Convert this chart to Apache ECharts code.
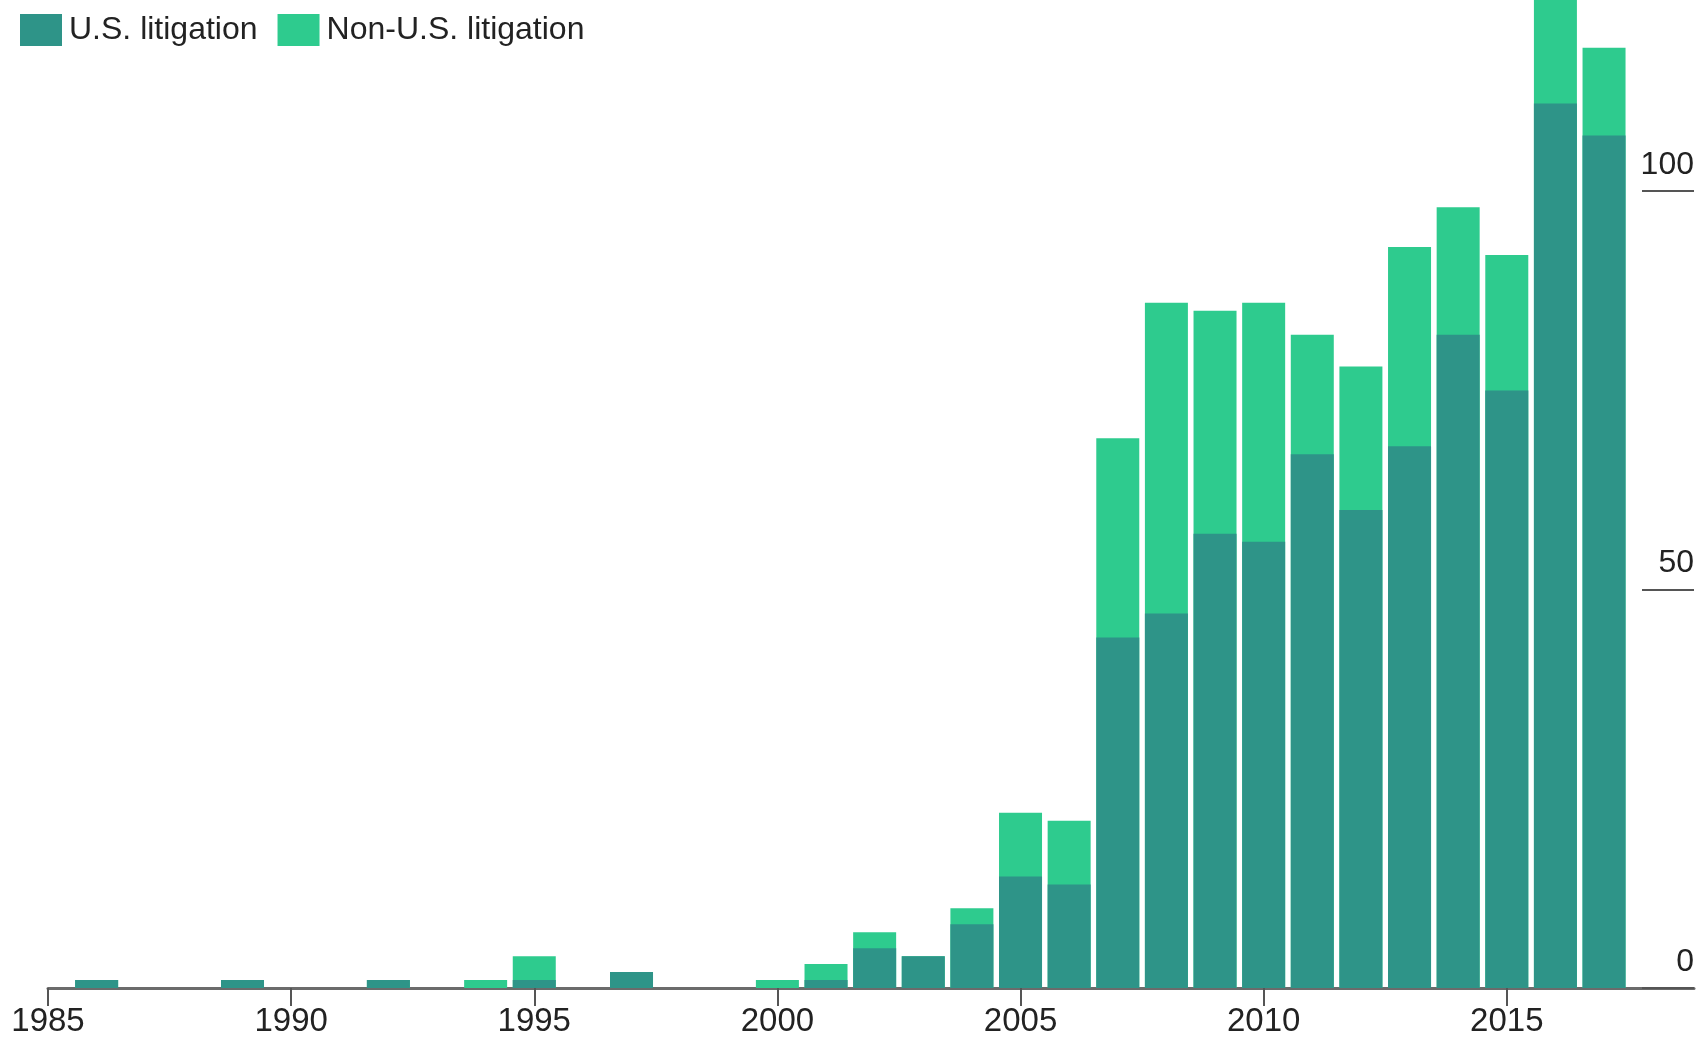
<!DOCTYPE html>
<html>
<head>
<meta charset="utf-8">
<script src="https://cdn.jsdelivr.net/npm/echarts@6/dist/echarts.min.js"></script>
<style>
html,body{margin:0;padding:0;background:#fff;}
#chart{width:1706px;height:1039px;}
</style>
</head>
<body>
<div id="chart"></div>
<script>
const years = [1986,1989,1992,1994,1995,1997,2000,2001,2002,2003,2004,2005,2006,2007,2008,2009,2010,2011,2012,2013,2014,2015,2016,2017];
const usLitigation =    [1,1,1,0,1,2,0,1,5,4,8,14,13,44,47,57,56,67,60,68,82,75,111,107];
const nonUsLitigation = [0,0,0,1,3,0,1,2,2,0,2,8,8,25,39,28,30,15,18,25,16,17,13,11];
const xTicks = [1985,1990,1995,2000,2005,2010,2015];
const yTicks = [0,50,100];

// non-U.S. bars sit on top of U.S. bars: drawn as the full column behind the U.S. part
const totals = years.map((y,i)=>[y, usLitigation[i] + nonUsLitigation[i]]);

const chart = echarts.init(document.getElementById('chart'));
const font = 'Liberation Sans, Arial, sans-serif';
chart.setOption({
  animation:false,
  backgroundColor:'#fff',
  legend:{
    left:15, top:9,
    itemWidth:42, itemHeight:32, itemGap:20,
    icon:'rect',
    textStyle:{fontFamily:font,fontSize:32,color:'#222',padding:[0,0,0,2]},
    data:['U.S. litigation','Non-U.S. litigation']
  },
  grid:{left:48,right:12,top:0,bottom:51,containLabel:false,outerBoundsMode:'none'},
  xAxis:{
    type:'value', min:1985, max:2018.85, interval:5,
    splitLine:{show:false},
    axisLine:{show:true,lineStyle:{color:'#6b6b6b',width:3}},
    axisTick:{show:true,length:18,lineStyle:{color:'#555',width:2},customValues:xTicks},
    axisLabel:{fontFamily:font,fontSize:33,color:'#222',margin:17,customValues:xTicks,
      formatter:v=>String(v)}
  },
  yAxis:{
    type:'value', position:'right', min:0, max:124, interval:50,
    splitLine:{show:false},
    axisLine:{show:false},
    axisTick:{show:true,inside:true,length:52,lineStyle:{color:'#555',width:2},customValues:yTicks},
    axisLabel:{inside:true,margin:0,fontFamily:font,fontSize:32,color:'#222',
      align:'right',verticalAlign:'bottom',padding:[0,0,10,0],customValues:yTicks}
  },
  series:[
    {name:'Non-U.S. litigation',type:'bar',barWidth:43,barGap:'-100%',
     itemStyle:{color:'#2ecb8e'},
     data:totals},
    {name:'U.S. litigation',type:'bar',barWidth:43,barGap:'-100%',
     itemStyle:{color:'#2e9488'},
     data:years.map((y,i)=>[y,usLitigation[i]])}
  ]
});
</script>
</body>
</html>
